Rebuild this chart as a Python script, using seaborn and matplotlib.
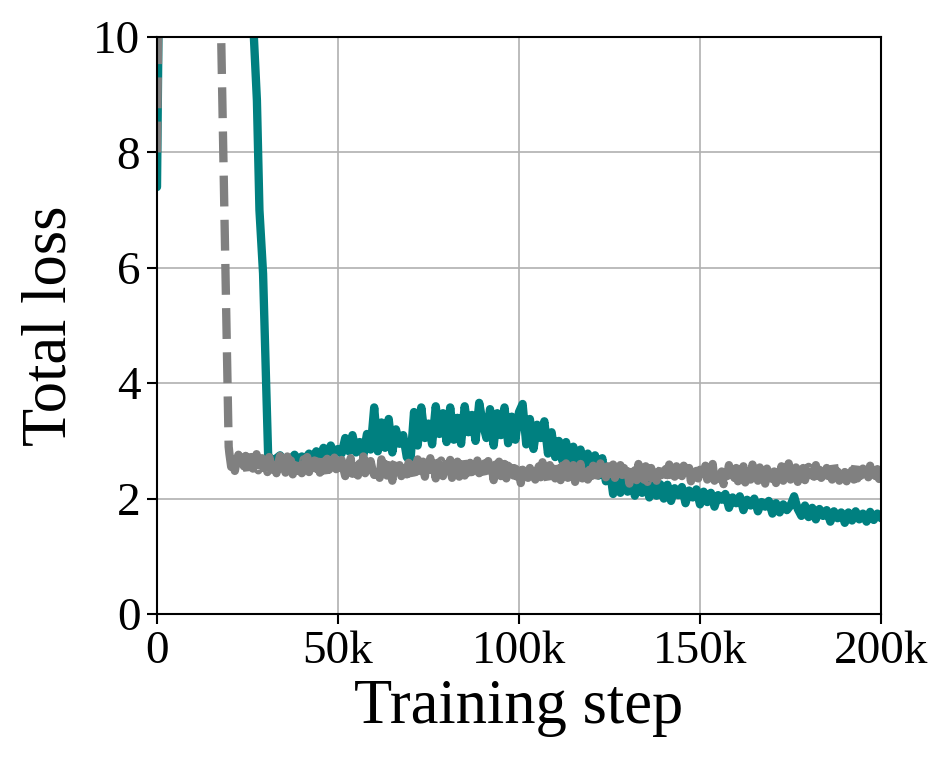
import numpy as np
import pandas as pd
import matplotlib
matplotlib.use('Agg')
import matplotlib.pyplot as plt
import seaborn as sns

# =============================================
# DATA
# =============================================
# teal run: head (blow-up at start, drop near 27k-31k), then noisy part every 1k from 31k
teal_head_steps = [0, 1000, 26000, 27600, 28300, 29300, 30700]
teal_head_loss = [7.4, 14.0, 11.0, 8.9, 7.0, 5.9, 2.75]
teal_tail_loss = [
    2.72, 2.66, 2.70, 2.75, 2.64, 2.71, 2.68, 2.76, 2.65, 2.73,
    2.69, 2.78, 2.70, 2.82, 2.72, 2.88, 2.74, 2.92, 2.76, 2.86,
    2.78, 3.05, 2.82, 3.10, 2.80, 2.98, 2.75, 3.12, 2.85, 3.58,
    2.82, 3.32, 2.88, 3.38, 2.80, 3.20, 2.95, 3.10, 2.72, 2.64,
    3.50, 2.92, 3.58, 3.05, 3.30, 2.94, 3.60, 3.12, 3.48, 2.98,
    3.58, 3.02, 3.40, 2.95, 3.60, 3.15, 3.45, 3.00, 3.66, 3.30,
    3.05, 3.55, 2.92, 3.48, 3.10, 3.58, 2.96, 3.42, 3.02, 3.50,
    3.64, 2.94, 3.38, 2.86, 3.28, 3.05, 3.34, 2.78, 3.15, 2.72,
    3.00, 2.65, 2.98, 2.62, 2.90, 2.60, 2.85, 2.55, 2.78, 2.50,
    2.75, 2.40, 2.70, 2.30, 2.55, 2.08, 2.45, 2.10, 2.40, 2.12,
    2.38, 2.05, 2.32, 2.10, 2.28, 2.02, 2.30, 2.05, 2.25, 2.00,
    2.24, 1.96, 2.18, 2.06, 2.20, 1.92, 2.14, 2.02, 2.16, 1.90,
    2.12, 1.94, 2.10, 1.86, 2.06, 1.98, 2.08, 1.84, 2.02, 1.92,
    2.04, 1.80, 1.98, 1.88, 2.00, 1.78, 1.94, 1.86, 1.96, 1.74,
    1.92, 1.76, 1.90, 1.80, 1.88, 2.04, 1.82, 1.70, 1.88, 1.68,
    1.84, 1.64, 1.82, 1.70, 1.80, 1.60, 1.78, 1.66, 1.76, 1.58,
    1.76, 1.62, 1.78, 1.64, 1.74, 1.60, 1.77, 1.63, 1.74, 1.66,
]
teal_tail_start = 31000
teal_tail_every = 1000

# gray (dashed) run: head, then noisy part every 500 steps from 20k to 200k
gray_head_steps = [0, 1000, 17000, 19800]
gray_head_loss = [8.0, 14.0, 12.5, 2.9]
gray_tail_loss = [
    2.78, 2.55, 2.70, 2.48, 2.66, 2.76, 2.50, 2.64, 2.56, 2.74, 2.47, 2.62, 2.72, 2.52, 2.60, 2.77, 2.49, 2.58, 2.70, 2.53,
    2.68, 2.46, 2.72, 2.55, 2.50, 2.70, 2.44, 2.62, 2.74, 2.49, 2.58, 2.45, 2.73, 2.54, 2.66, 2.42, 2.61, 2.71, 2.48, 2.57,
    2.44, 2.68, 2.53, 2.72, 2.46, 2.60, 2.41, 2.66, 2.52, 2.75, 2.45, 2.58, 2.64, 2.40, 2.69, 2.50, 2.62, 2.43, 2.71, 2.51,
    2.60, 2.42, 2.67, 2.52, 2.39, 2.64, 2.48, 2.70, 2.43, 2.56, 2.66, 2.40, 2.61, 2.47, 2.73, 2.44, 2.55, 2.37, 2.65, 2.50,
    2.41, 2.63, 2.52, 2.36, 2.68, 2.47, 2.60, 2.40, 2.69, 2.50, 2.31, 2.57, 2.65, 2.44, 2.58, 2.39, 2.66, 2.51, 2.42, 2.62,
    2.47, 2.30, 2.59, 2.46, 2.68, 2.41, 2.55, 2.64, 2.38, 2.60, 2.49, 2.70, 2.42, 2.56, 2.35, 2.62, 2.47, 2.66, 2.39, 2.53,
    2.60, 2.43, 2.67, 2.36, 2.54, 2.45, 2.64, 2.38, 2.58, 2.69, 2.40, 2.52, 2.33, 2.62, 2.46, 2.57, 2.39, 2.66, 2.44, 2.53,
    2.37, 2.61, 2.48, 2.65, 2.40, 2.55, 2.32, 2.59, 2.45, 2.64, 2.39, 2.51, 2.60, 2.35, 2.57, 2.44, 2.66, 2.40, 2.52, 2.38,
    2.58, 2.27, 2.50, 2.41, 2.62, 2.36, 2.53, 2.43, 2.60, 2.33, 2.47, 2.56, 2.37, 2.63, 2.42, 2.51, 2.31, 2.58, 2.40, 2.52,
    2.35, 2.59, 2.46, 2.32, 2.57, 2.41, 2.61, 2.36, 2.49, 2.38, 2.58, 2.29, 2.52, 2.43, 2.60, 2.35, 2.47, 2.56, 2.33, 2.50,
    2.39, 2.57, 2.32, 2.52, 2.42, 2.61, 2.35, 2.49, 2.37, 2.56, 2.30, 2.50, 2.59, 2.36, 2.47, 2.33, 2.58, 2.41, 2.53, 2.35,
    2.47, 2.26, 2.54, 2.38, 2.49, 2.32, 2.60, 2.39, 2.51, 2.33, 2.56, 2.29, 2.45, 2.53, 2.36, 2.58, 2.31, 2.47, 2.40, 2.55,
    2.34, 2.51, 2.41, 2.59, 2.31, 2.47, 2.38, 2.56, 2.28, 2.49, 2.39, 2.57, 2.33, 2.45, 2.53, 2.30, 2.58, 2.37, 2.48, 2.35,
    2.50, 2.29, 2.43, 2.57, 2.33, 2.48, 2.38, 2.60, 2.31, 2.45, 2.54, 2.34, 2.47, 2.25, 2.52, 2.39, 2.58, 2.31, 2.46, 2.36,
    2.53, 2.30, 2.47, 2.38, 2.56, 2.28, 2.44, 2.51, 2.33, 2.59, 2.36, 2.47, 2.31, 2.54, 2.40, 2.49, 2.26, 2.52, 2.37, 2.57,
    2.34, 2.47, 2.27, 2.51, 2.39, 2.56, 2.31, 2.45, 2.36, 2.61, 2.33, 2.49, 2.38, 2.54, 2.29, 2.47, 2.40, 2.53, 2.32, 2.46,
    2.55, 2.32, 2.47, 2.38, 2.58, 2.29, 2.50, 2.36, 2.45, 2.28, 2.53, 2.39, 2.49, 2.33, 2.60, 2.36, 2.47, 2.31, 2.52, 2.38,
    2.46, 2.30, 2.55, 2.38, 2.49, 2.33, 2.61, 2.35, 2.47, 2.40, 2.52, 2.29, 2.46, 2.37, 2.57, 2.32, 2.49, 2.39, 2.51, 2.34,
    2.44,
]
gray_tail_start = 20000
gray_tail_every = 500

x_ticks = [0, 50000, 100000, 150000, 200000]
x_tick_labels = ['0', '50k', '100k', '150k', '200k']
y_ticks = [0, 2, 4, 6, 8, 10]

# =============================================
# BUILD THE TABLE
# =============================================
teal_steps = teal_head_steps + [teal_tail_start + teal_tail_every * i for i in range(len(teal_tail_loss))]
gray_steps = gray_head_steps + [gray_tail_start + gray_tail_every * i for i in range(len(gray_tail_loss))]

df = pd.concat([
    pd.DataFrame({'step': teal_steps, 'loss': teal_head_loss + teal_tail_loss, 'run': 'teal'}),
    pd.DataFrame({'step': gray_steps, 'loss': gray_head_loss + gray_tail_loss, 'run': 'gray'}),
], ignore_index=True)

# =============================================
# PLOT
# =============================================
sns.set_theme(style='ticks')
plt.rcParams['font.family'] = ['Liberation Serif', 'DejaVu Serif']
plt.rcParams['axes.linewidth'] = 1.5

fig, ax = plt.subplots(figsize=(9.52, 7.65), dpi=100)
fig.subplots_adjust(left=157 / 952, right=881 / 952, top=1 - 37 / 765, bottom=1 - 614 / 765)

ax.grid(True, color='#b0b0b0', linewidth=1.2, zorder=0)

sns.lineplot(data=df, x='step', y='loss', hue='run', style='run',
             palette={'teal': '#008080', 'gray': '#808080'},
             dashes={'teal': '', 'gray': (3.7, 1.6)},
             estimator=None, sort=False, linewidth=6.0, legend=False, ax=ax)

ax.set_xlim(0, 200000)
ax.set_ylim(0, 10)
ax.set_xticks(x_ticks)
ax.set_xticklabels(x_tick_labels)
ax.set_yticks(y_ticks)
ax.tick_params(axis='both', direction='out', length=7, width=1.5, labelsize=34, pad=5, colors='black')
ax.set_xlabel('Training step', fontsize=45, color='black', labelpad=4)
ax.set_ylabel('Total loss', fontsize=45, color='black', labelpad=10)
for s in ax.spines.values():
    s.set_visible(True)
    s.set_color('black')
    s.set_linewidth(1.5)

fig.savefig('out.png', dpi=100)
